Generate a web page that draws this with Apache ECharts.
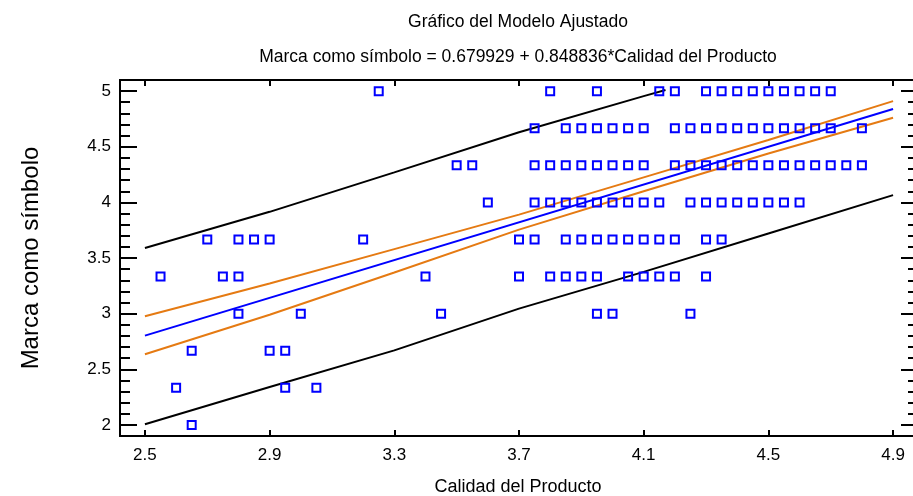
<!DOCTYPE html>
<html>
<head>
<meta charset="utf-8">
<script src="https://cdn.jsdelivr.net/npm/echarts@6/dist/echarts.min.js"></script>
<style>
html,body{margin:0;padding:0;background:#fff;overflow:hidden;}
#chart{width:913px;height:496px;}
</style>
</head>
<body>
<div id="chart"></div>
<script>
// ---- Texts ----
const titleText = 'Gráfico del Modelo Ajustado';
const subtitleText = 'Marca como símbolo = 0.679929 + 0.848836*Calidad del Producto';
const xName = 'Calidad del Producto';
const yName = 'Marca como símbolo';

// ---- Tick values / labels ----
const xTicks = [2.5, 2.9, 3.3, 3.7, 4.1, 4.5, 4.9];
const xTickLabels = ['2.5', '2.9', '3.3', '3.7', '4.1', '4.5', '4.9'];
const yTicks = [2, 2.5, 3, 3.5, 4, 4.5, 5];
const yTickLabels = ['2', '2.5', '3', '3.5', '4', '4.5', '5'];
const yMinorTicks = [1.9, 2.1, 2.2, 2.3, 2.4, 2.6, 2.7, 2.8, 2.9, 3.1, 3.2, 3.3, 3.4, 3.6, 3.7, 3.8, 3.9, 4.1, 4.2, 4.3, 4.4, 4.6, 4.7, 4.8, 4.9, 5.1];

// ---- Observations: x values (Calidad del Producto) at each y level ----
const yLevels = [5, 4.6667, 4.3333, 4, 3.6667, 3.3333, 3, 2.6667, 2.3333, 2];
const xAt5    = [3.25, 3.8, 3.95, 4.15, 4.2, 4.3, 4.35, 4.4, 4.45, 4.5, 4.55, 4.6, 4.65, 4.7];
const xAt4_67 = [3.75, 3.85, 3.9, 3.95, 4.0, 4.05, 4.1, 4.2, 4.25, 4.3, 4.35, 4.4, 4.45, 4.5, 4.55, 4.6, 4.65, 4.7, 4.8];
const xAt4_33 = [3.5, 3.55, 3.75, 3.8, 3.85, 3.9, 3.95, 4.0, 4.05, 4.1, 4.2, 4.25, 4.3, 4.35, 4.4, 4.45, 4.5, 4.55, 4.6, 4.65, 4.7, 4.75, 4.8];
const xAt4    = [3.6, 3.75, 3.8, 3.85, 3.9, 3.95, 4.0, 4.05, 4.1, 4.15, 4.25, 4.3, 4.35, 4.4, 4.45, 4.5, 4.55, 4.6];
const xAt3_67 = [2.7, 2.8, 2.85, 2.9, 3.2, 3.7, 3.75, 3.85, 3.9, 3.95, 4.0, 4.05, 4.1, 4.15, 4.2, 4.3, 4.35];
const xAt3_33 = [2.55, 2.75, 2.8, 3.4, 3.7, 3.8, 3.85, 3.9, 3.95, 4.05, 4.1, 4.15, 4.2, 4.3];
const xAt3    = [2.8, 3.0, 3.45, 3.95, 4.0, 4.25];
const xAt2_67 = [2.65, 2.9, 2.95];
const xAt2_33 = [2.6, 2.95, 3.05];
const xAt2    = [2.65];
const xByLevel = [xAt5, xAt4_67, xAt4_33, xAt4, xAt3_67, xAt3_33, xAt3, xAt2_67, xAt2_33, xAt2];

// ---- Fitted line and bands ----
const fitX = [2.5, 4.9];
const fitY = [2.802, 4.839];
const bandX = [2.5, 2.9, 3.3, 3.7, 4.1, 4.5, 4.9];
const confUpper = [2.977, 3.271, 3.58, 3.89, 4.225, 4.56, 4.91];
const confLower = [2.635, 2.99, 3.37, 3.755, 4.10, 4.44, 4.76];
const predLower = [2.005, 2.341, 2.67, 3.045, 3.375, 3.72, 4.065];
const predUpperX = [2.5, 2.9, 3.3, 3.7, 4.1, 4.17];
const predUpper = [3.59, 3.915, 4.27, 4.63, 4.955, 5.01];

// ---- build ----
const pts = [];
xByLevel.forEach((xs, i) => xs.forEach(x => pts.push([x, yLevels[i]])));
const zip = (a, b) => a.map((v, i) => [v, b[i]]);

const FONT = '"Liberation Sans", Arial, sans-serif';
const BLACK = '#000';
const ORANGE = '#e57a12';
const BLUE = '#0000ff';

const chart = echarts.init(document.getElementById('chart'), null, {renderer: 'canvas'});

const baseX = {
  type: 'value', min: 2.42, max: 4.98,
  splitLine: {show: false},
  axisLine: {show: true, onZero: false, lineStyle: {color: BLACK, width: 2}},
};
const baseY = {
  type: 'value', min: 1.9, max: 5.1,
  splitLine: {show: false},
  axisLine: {show: true, onZero: false, lineStyle: {color: BLACK, width: 2}},
};
const fmtX = v => { const i = xTicks.findIndex(t => Math.abs(t - v) < 1e-6); return i >= 0 ? xTickLabels[i] : ''; };
const fmtY = v => { const i = yTicks.findIndex(t => Math.abs(t - v) < 1e-6); return i >= 0 ? yTickLabels[i] : ''; };

const option = {
  animation: false,
  backgroundColor: '#fff',
  grid: {left: 120, top: 80, width: 798, height: 356, containLabel: false, outerBoundsMode: 'none'},
  xAxis: [
    Object.assign({}, baseX, {
      position: 'bottom',
      axisTick: {show: true, inside: true, length: 6, customValues: xTicks, lineStyle: {color: BLACK, width: 2}},
      axisLabel: {show: true, customValues: xTicks, formatter: fmtX, margin: 11, color: BLACK, fontSize: 17, fontFamily: FONT}
    }),
    Object.assign({}, baseX, {
      position: 'top',
      axisTick: {show: true, inside: true, length: 6, customValues: xTicks, lineStyle: {color: BLACK, width: 2}},
      axisLabel: {show: false}
    })
  ],
  yAxis: [
    Object.assign({}, baseY, {
      position: 'left',
      axisTick: {show: true, inside: true, length: 17, customValues: yTicks, lineStyle: {color: BLACK, width: 2}},
      axisLabel: {show: true, customValues: yTicks, formatter: fmtY, margin: 9, color: BLACK, fontSize: 17, fontFamily: FONT}
    }),
    Object.assign({}, baseY, {
      position: 'left',
      axisTick: {show: true, inside: true, length: 10, customValues: yMinorTicks, lineStyle: {color: BLACK, width: 2}},
      axisLabel: {show: false}
    }),
    Object.assign({}, baseY, {
      position: 'right',
      axisTick: {show: true, inside: true, length: 17, customValues: yTicks, lineStyle: {color: BLACK, width: 2}},
      axisLabel: {show: false}
    }),
    Object.assign({}, baseY, {
      position: 'right',
      axisTick: {show: true, inside: true, length: 10, customValues: yMinorTicks, lineStyle: {color: BLACK, width: 2}},
      axisLabel: {show: false}
    })
  ],
  series: [
    {type: 'line', data: zip(bandX, predLower), showSymbol: false, lineStyle: {color: BLACK, width: 2}, z: 2, silent: true},
    {type: 'line', data: zip(predUpperX, predUpper), showSymbol: false, lineStyle: {color: BLACK, width: 2}, z: 2, silent: true},
    {type: 'line', data: zip(bandX, confUpper), showSymbol: false, lineStyle: {color: ORANGE, width: 2}, z: 2, silent: true},
    {type: 'line', data: zip(bandX, confLower), showSymbol: false, lineStyle: {color: ORANGE, width: 2}, z: 2, silent: true},
    {type: 'line', data: zip(fitX, fitY), showSymbol: false, lineStyle: {color: BLUE, width: 2}, z: 2, silent: true},
    {type: 'scatter', data: pts, symbol: 'rect', symbolSize: 8,
     itemStyle: {color: 'rgba(0,0,0,0)', borderColor: BLUE, borderWidth: 2, opacity: 1}, z: 5, silent: true}
  ],
  graphic: [
    {type: 'text', x: 518, y: 22, style: {text: titleText, fill: BLACK, font: '17.5px ' + FONT, textAlign: 'center', textVerticalAlign: 'middle'}},
    {type: 'text', x: 518, y: 57, style: {text: subtitleText, fill: BLACK, font: '17.5px ' + FONT, textAlign: 'center', textVerticalAlign: 'middle'}},
    {type: 'text', x: 518, y: 487, style: {text: xName, fill: BLACK, font: '18px ' + FONT, textAlign: 'center', textVerticalAlign: 'middle'}},
    {type: 'text', x: 31, y: 258, rotation: Math.PI / 2, style: {text: yName, fill: BLACK, font: '24px ' + FONT, textAlign: 'center', textVerticalAlign: 'middle'}}
  ]
};
chart.setOption(option);
</script>
</body>
</html>
